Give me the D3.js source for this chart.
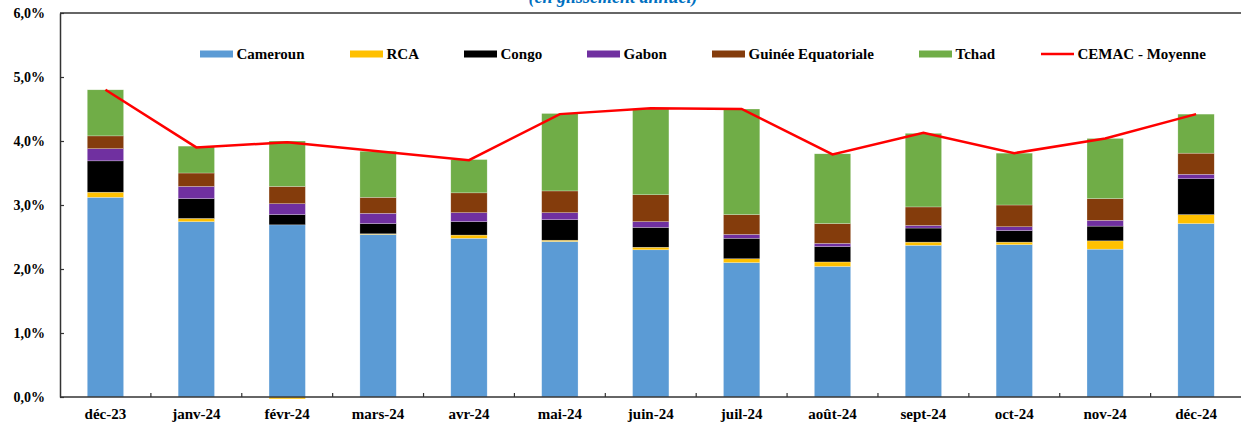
<!DOCTYPE html>
<html>
<head>
<meta charset="utf-8">
<script src="https://cdn.jsdelivr.net/npm/d3@7"></script>
<style>
  body { margin: 0; background: #fff; }
  svg { display: block; font-family: "Liberation Serif", "Times New Roman", serif; }
</style>
</head>
<body>
<div id="chart"></div>
<script>
// Data (percent, year-on-year)
var months = ["déc-23", "janv-24", "févr-24", "mars-24", "avr-24", "mai-24", "juin-24",
              "juil-24", "août-24", "sept-24", "oct-24", "nov-24", "déc-24"];
var cameroun = [3.12, 2.74, 2.69, 2.54, 2.48, 2.43, 2.30, 2.10, 2.04, 2.37, 2.38, 2.31, 2.71];
var rca      = [0.08, 0.05, -0.03, 0.01, 0.05, 0.02, 0.04, 0.06, 0.07, 0.05, 0.04, 0.13, 0.14];
var congo    = [0.49, 0.31, 0.16, 0.16, 0.21, 0.32, 0.31, 0.32, 0.24, 0.22, 0.18, 0.23, 0.56];
var gabon    = [0.19, 0.19, 0.17, 0.16, 0.14, 0.11, 0.09, 0.06, 0.05, 0.04, 0.06, 0.09, 0.07];
var guinee   = [0.20, 0.21, 0.27, 0.25, 0.31, 0.34, 0.42, 0.31, 0.31, 0.29, 0.34, 0.34, 0.33];
var tchad    = [0.72, 0.42, 0.71, 0.72, 0.52, 1.21, 1.34, 1.65, 1.09, 1.15, 0.81, 0.94, 0.61];
var cemac    = [4.80, 3.90, 3.98, 3.84, 3.70, 4.42, 4.51, 4.50, 3.79, 4.13, 3.81, 4.04, 4.42];
var yTicks   = [0, 1, 2, 3, 4, 5, 6];

var series = [
  {key: "Cameroun", values: cameroun, color: "#5B9BD5"},
  {key: "RCA", values: rca, color: "#FFC000"},
  {key: "Congo", values: congo, color: "#000000"},
  {key: "Gabon", values: gabon, color: "#7030A0"},
  {key: "Guinée Equatoriale", values: guinee, color: "#843C0C"},
  {key: "Tchad", values: tchad, color: "#70AD47"}
];

var svgWidth = 1241;
var svgHeight = 423;
var plot = {left: 60, right: 1241.5, top: 13, bottom: 397};

var svg = d3.select("#chart")
            .append("svg")
            .attr("width", svgWidth)
            .attr("height", svgHeight);

// table for d3.stack built from the arrays
var table = months.map(function(m, i) {
    var row = {month: m};
    series.forEach(function(s) { row[s.key] = s.values[i]; });
    return row;
});

var stacked = d3.stack()
                .keys(series.map(s => s.key))
                .offset(d3.stackOffsetDiverging)(table);

var x = d3.scaleBand()
          .domain(months)
          .range([plot.left, plot.right])
          .paddingInner(0.6)
          .paddingOuter(0.3);

var y = d3.scaleLinear()
          .domain([0, 6])
          .range([plot.bottom, plot.top]);

var locale = d3.formatLocale({decimal: ",", thousands: " ", grouping: [3], currency: ["", "€"]});
var pct = locale.format(".1f");

// title (cut off at the top in the original)
svg.append("text")
   .attr("x", 613)
   .attr("y", 3)
   .attr("text-anchor", "middle")
   .attr("font-size", "18px")
   .attr("font-weight", "bold")
   .attr("font-style", "italic")
   .attr("fill", "#0070C0")
   .text("(en glissement annuel)");

// top border of plot
svg.append("line")
   .attr("x1", plot.left).attr("x2", svgWidth)
   .attr("y1", plot.top).attr("y2", plot.top)
   .attr("stroke", "#333")
   .attr("stroke-width", 1.5);

// bars
var layers = svg.append("g").selectAll("g")
                .data(stacked)
                .enter()
                .append("g")
                .attr("fill", (d, i) => series[i].color);

layers.selectAll("rect")
      .data(d => d)
      .enter()
      .append("rect")
      .attr("x", d => x(d.data.month))
      .attr("width", x.bandwidth())
      .attr("y", d => y(Math.max(d[0], d[1])))
      .attr("height", d => Math.abs(y(d[0]) - y(d[1])))
      .attr("stroke", "#fff")
      .attr("stroke-opacity", 0.5)
      .attr("stroke-width", 0.5);

// CEMAC average line
var line = d3.line()
             .x((d, i) => x(months[i]) + x.bandwidth() / 2)
             .y(d => y(d));

svg.append("path")
   .datum(cemac)
   .attr("d", line)
   .attr("fill", "none")
   .attr("stroke", "#FF0000")
   .attr("stroke-width", 2.5);

// y axis
var yAxis = svg.append("g")
               .attr("transform", `translate(${plot.left},0)`)
               .call(d3.axisLeft(y).tickValues(yTicks).tickSizeInner(-4).tickSizeOuter(0)
                       .tickPadding(15).tickFormat(d => pct(d) + "%"));
yAxis.select(".domain").attr("stroke", "#333").attr("stroke-width", 1.5);
yAxis.selectAll(".tick line").attr("stroke", "#333").attr("stroke-width", 1.2);
yAxis.selectAll("text")
     .attr("font-size", "14px")
     .attr("font-weight", "bold")
     .attr("font-family", "'Liberation Serif', 'Times New Roman', serif")
     .attr("fill", "#000");

// x axis
var xAxis = svg.append("g")
               .attr("transform", `translate(0,${plot.bottom})`)
               .call(d3.axisBottom(x).tickSize(0).tickPadding(11));
xAxis.select(".domain").attr("d", `M${plot.left},0H${svgWidth}`)
     .attr("stroke", "#333").attr("stroke-width", 1.5);
xAxis.selectAll("text")
     .attr("font-size", "15px")
     .attr("font-weight", "bold")
     .attr("font-family", "'Liberation Serif', 'Times New Roman', serif")
     .attr("fill", "#000");

// small ticks between categories, pointing up
xAxis.selectAll(".sep")
     .data(months.slice(1))
     .enter()
     .append("line")
     .attr("x1", d => x(d) - x.step() * x.paddingInner() / 2)
     .attr("x2", d => x(d) - x.step() * x.paddingInner() / 2)
     .attr("y1", 0)
     .attr("y2", -4)
     .attr("stroke", "#333")
     .attr("stroke-width", 1.2);

// legend
var legendItems = series.map(s => ({key: s.key, color: s.color, type: "bar"}))
                        .concat([{key: "CEMAC - Moyenne", color: "#FF0000", type: "line"}]);
var legendX = [200, 350, 464, 587, 712, 919, 1041];
var legendY = 54;

var legend = svg.append("g").selectAll("g")
                .data(legendItems)
                .enter()
                .append("g")
                .attr("transform", (d, i) => `translate(${legendX[i]},${legendY})`);

legend.filter(d => d.type === "bar")
      .append("rect")
      .attr("x", 0).attr("y", -3.5)
      .attr("width", 33).attr("height", 7)
      .attr("fill", d => d.color);

legend.filter(d => d.type === "line")
      .append("line")
      .attr("x1", 0).attr("x2", 33)
      .attr("y1", 0).attr("y2", 0)
      .attr("stroke", d => d.color)
      .attr("stroke-width", 2.5);

legend.append("text")
      .attr("x", 36.5)
      .attr("y", 0)
      .attr("dy", "0.35em")
      .attr("font-size", "15px")
      .attr("font-weight", "bold")
      .attr("fill", "#000")
      .text(d => d.key);
</script>
</body>
</html>
